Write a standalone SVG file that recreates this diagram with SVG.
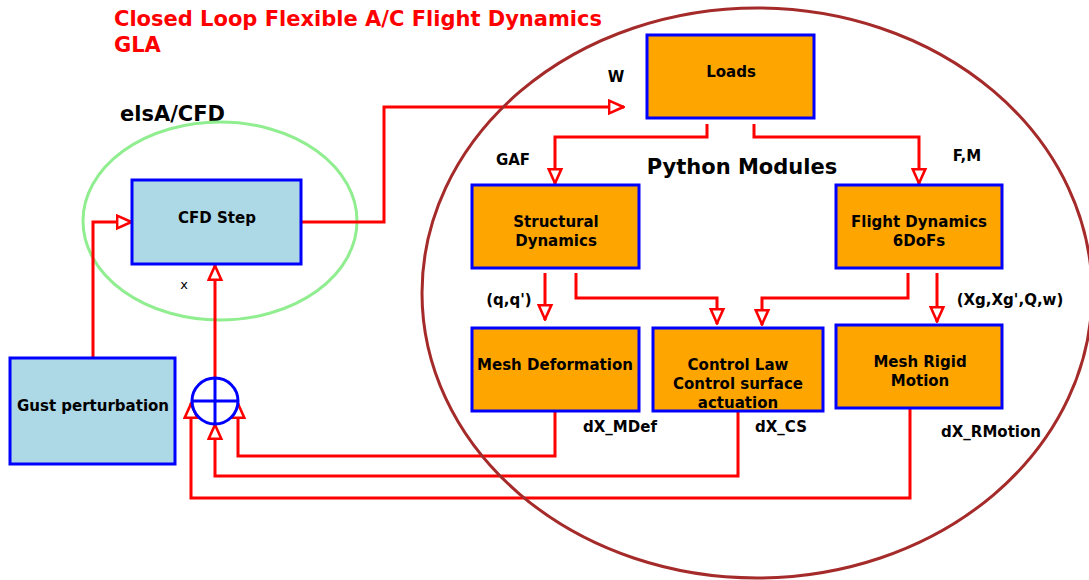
<svg xmlns="http://www.w3.org/2000/svg" width="1089" height="580" viewBox="0 0 1089 580">
<defs>
<style>
text{font-family:"DejaVu Sans","Liberation Sans",sans-serif;font-weight:bold;fill:#000;}
.lbl{font-size:15px;text-anchor:middle;}
.sm{font-size:15px;}
.title{font-size:21px;fill:#ff0000;}
.big{font-size:21px;}
.box{stroke:#0000ff;stroke-width:3;}
.blue{fill:#add8e6;}
.orange{fill:#ffa500;}
.wire{fill:none;stroke:#ff0000;stroke-width:3;}
.arr{marker-end:url(#ah);}
</style>
<marker id="ah" viewBox="0 0 12 12" refX="11.5" refY="6" markerWidth="17" markerHeight="17" markerUnits="userSpaceOnUse" orient="auto">
<path d="M1,1.5 L11,6 L1,10.5 Z" fill="#fff" stroke="#ff0000" stroke-width="1.8"/>
</marker>
</defs>
<rect width="1089" height="580" fill="#fff"/>

<g id="titles">
<text class="title" x="114" y="26">Closed Loop Flexible A/C Flight Dynamics</text>
<text class="title" x="114" y="52">GLA</text>
<text class="big" x="120" y="121">elsA/CFD</text>
<text class="big" x="742" y="174" text-anchor="middle">Python Modules</text>
</g>

<ellipse id="cfd-region" cx="220" cy="221" rx="137" ry="99" fill="none" stroke="#90ee90" stroke-width="3"/>

<g id="connectors">
<polyline class="wire arr" points="93,358 93,222 132,222"/>
<polyline class="wire arr" points="215,378 215,265"/>
<polyline class="wire arr" points="301,222 384,222 384,107 624,107"/>
<polyline class="wire arr" points="707,124 707,137 555,137 555,184"/>
<polyline class="wire arr" points="754,124 754,137 919,137 919,184"/>
<polyline class="wire arr" points="545,273 545,320"/>
<polyline class="wire arr" points="576,273 576,298 717,298 717,324"/>
<polyline class="wire arr" points="908,273 908,298 762,298 762,325"/>
<polyline class="wire arr" points="937,273 937,322"/>
<polyline class="wire arr" points="555,411 555,456 238,456 238,403"/>
<polyline class="wire arr" points="738,412 738,476 215,476 215,424"/>
<polyline class="wire arr" points="910,409 910,498 191,498 191,403"/>
</g>

<ellipse id="python-region" cx="757" cy="293" rx="335" ry="285" fill="none" stroke="#a52a2a" stroke-width="3"/>

<g id="labels">
<text class="sm" x="616" y="82" text-anchor="middle">W</text>
<text class="sm" x="513" y="165" text-anchor="middle">GAF</text>
<text class="sm" x="967" y="161" text-anchor="middle">F,M</text>
<text class="sm" x="509" y="305" text-anchor="middle">(q,q')</text>
<text class="sm" x="1010" y="305" text-anchor="middle">(Xg,Xg',Q,w)</text>
<text class="sm" x="620" y="432" text-anchor="middle">dX_MDef</text>
<text class="sm" x="781" y="432" text-anchor="middle">dX_CS</text>
<text class="sm" x="991" y="437" text-anchor="middle">dX_RMotion</text>
<text x="184" y="289" text-anchor="middle" style="font-weight:normal;font-size:13px">x</text>
</g>

<g id="cfd-step">
<rect class="box blue" x="132" y="180" width="169" height="84"/>
<text class="lbl" x="217" y="223">CFD Step</text>
</g>
<g id="gust">
<rect class="box blue" x="10" y="358" width="165" height="106"/>
<text class="lbl" x="93" y="411">Gust perturbation</text>
</g>
<g id="sum">
<circle cx="215" cy="401" r="23" fill="#fff" stroke="#0000ff" stroke-width="3"/>
<line x1="192" y1="401" x2="238" y2="401" stroke="#0000ff" stroke-width="3"/>
<line x1="215" y1="378" x2="215" y2="424" stroke="#0000ff" stroke-width="3"/>
</g>
<g id="loads">
<rect class="box orange" x="647" y="35" width="167" height="83"/>
<text class="lbl" x="731" y="77">Loads</text>
</g>
<g id="structural">
<rect class="box orange" x="472" y="185" width="167" height="83"/>
<text class="lbl" x="556" y="227">Structural</text>
<text class="lbl" x="556" y="246">Dynamics</text>
</g>
<g id="flight">
<rect class="box orange" x="836" y="185" width="166" height="83"/>
<text class="lbl" x="919" y="227">Flight Dynamics</text>
<text class="lbl" x="919" y="246">6DoFs</text>
</g>
<g id="mesh-def">
<rect class="box orange" x="472" y="328" width="167" height="83"/>
<text class="lbl" x="555" y="370">Mesh Deformation</text>
</g>
<g id="control">
<rect class="box orange" x="653" y="328" width="170" height="83"/>
<text class="lbl" x="738" y="370">Control Law</text>
<text class="lbl" x="738" y="389">Control surface</text>
<text class="lbl" x="738" y="408">actuation</text>
</g>
<g id="mesh-rigid">
<rect class="box orange" x="836" y="325" width="166" height="83"/>
<text class="lbl" x="920" y="367">Mesh Rigid</text>
<text class="lbl" x="920" y="386">Motion</text>
</g>
</svg>
